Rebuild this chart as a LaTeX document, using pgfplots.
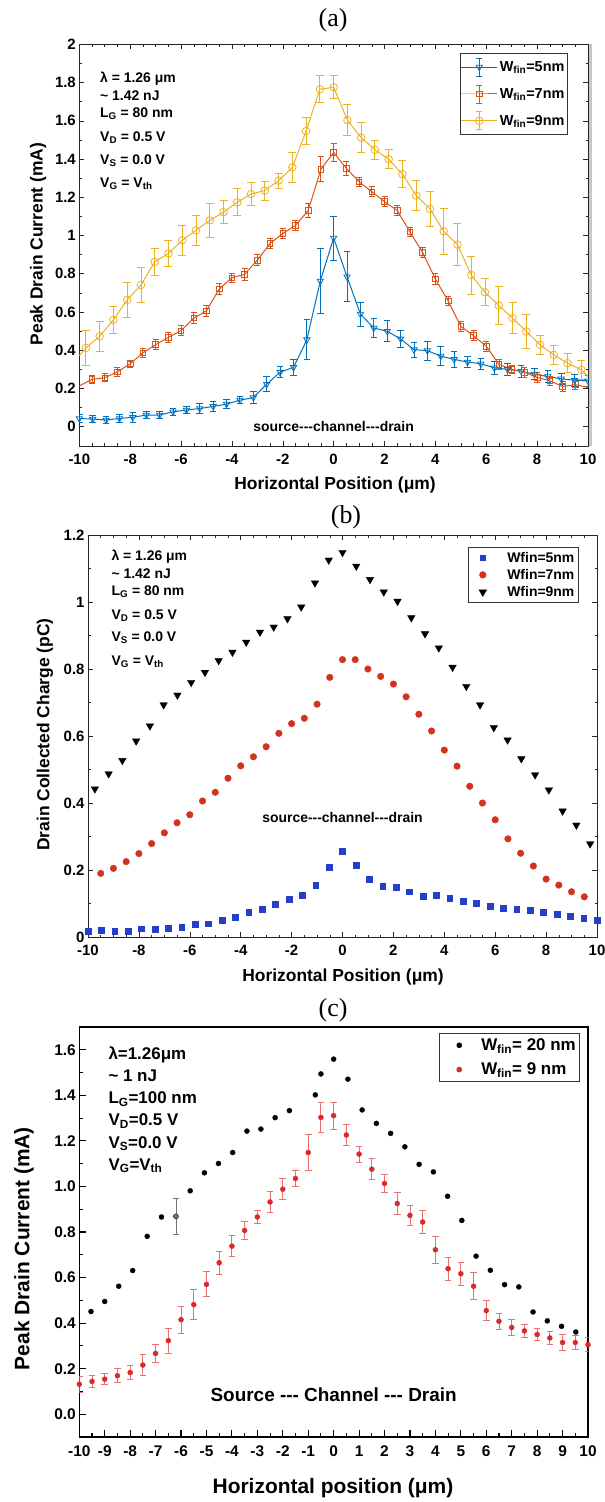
\documentclass[border=0pt]{standalone}
\usepackage{fontspec}
\usepackage{pgfplots}
\pgfplotsset{compat=1.18}
\newfontfamily\af{Liberation Sans}
\newfontfamily\tf{Liberation Serif}

\definecolor{mblue}{HTML}{0072BD}
\definecolor{morange}{HTML}{D95319}
\definecolor{myellow}{HTML}{EDB120}
\definecolor{bblue}{HTML}{2340C8}
\definecolor{bred}{HTML}{D2321E}
\definecolor{cred}{HTML}{DC2828}
\definecolor{cerr}{HTML}{EB7070}

\pgfplotsset{
  mat/.style={
    scale only axis, tick align=inside, tick pos=both,
    major tick length=5bp, minor tick length=2.5bp,
    axis line style={black!85, line width=0.6bp},
    every tick/.append style={black!85, line width=0.5bp},
    tick label style={font=\af\bfseries\fontsize{15}{18}\selectfont},
    xticklabel style={yshift=-5bp},
    /pgf/number format/assume math mode=true,
  },
  ebleg/.style={legend image code/.code={
    \draw[mark repeat=2,mark phase=2,##1] plot coordinates {(0bp,0bp) (18bp,0bp) (36bp,0bp)};
    \draw[##1,mark=none,line width=0.9bp] (18bp,-9bp) -- (18bp,9bp)
      (15bp,-9bp) -- (21bp,-9bp) (15bp,9bp) -- (21bp,9bp);
  }},
  dotleg/.style 2 args={legend image code/.code={
    \path[draw=none,fill=none] (0bp,-5bp) rectangle (#2,5bp);
    \draw[##1] plot coordinates {(#1,0bp)};
  }},
  ebars/.style 2 args={
    /pgfplots/error bars/y dir=both, /pgfplots/error bars/y explicit,
    /pgfplots/error bars/error bar style={#2, line width=0.9bp},
    /pgfplots/error bars/error mark options={rotate=90, #2, mark size=#1, line width=0.9bp}},
}

\begin{document}
\begin{tikzpicture}[font=\af\bfseries]
\useasboundingbox (0bp,0bp) rectangle (605bp,-1502bp);

% ---------------- (a) peak drain current ----------------
\begin{axis}[mat,
  at={(79.3bp,-445.8bp)}, anchor=south west,
  width=508.7bp, height=401.5bp,
  xmin=-10, xmax=10, ymin=-0.1, ymax=2,
  xtick={-10,-8,-6,-4,-2,0,2,4,6,8,10},
  ytick={0,0.2,0.4,0.6,0.8,1,1.2,1.4,1.6,1.8,2},
  minor x tick num=3, minor y tick num=1,
  legend cell align=left,
  legend style={at={(0.7474,0.9775)}, anchor=north west, draw=black!80,
    line width=0.6bp, inner xsep=1bp, inner ysep=4bp, row sep=8bp,
    nodes={inner sep=2bp},
    font=\af\bfseries\fontsize{14.5}{16}\selectfont},
]
\addplot[mblue, line width=1bp, mark=triangle, mark size=3.6bp,
  mark options={rotate=180, line width=0.8bp}, ebleg, ebars={3.3bp}{mblue}]
  coordinates {
(-10.000,0.043) +- (0,0.020) (-9.474,0.040) +- (0,0.020) (-8.947,0.035) +- (0,0.020)
(-8.421,0.043) +- (0,0.020) (-7.895,0.049) +- (0,0.025) (-7.368,0.061) +- (0,0.020)
(-6.842,0.061) +- (0,0.020) (-6.316,0.078) +- (0,0.020) (-5.789,0.087) +- (0,0.020)
(-5.263,0.095) +- (0,0.025) (-4.737,0.106) +- (0,0.025) (-4.211,0.118) +- (0,0.025)
(-3.684,0.139) +- (0,0.020) (-3.158,0.152) +- (0,0.030) (-2.632,0.222) +- (0,0.040)
(-2.105,0.285) +- (0,0.030) (-1.579,0.310) +- (0,0.040) (-1.053,0.455) +- (0,0.105)
(-0.526,0.762) +- (0,0.170) (0.000,0.987) +- (0,0.115) (0.526,0.784) +- (0,0.130)
(1.053,0.589) +- (0,0.063) (1.579,0.516) +- (0,0.050) (2.105,0.499) +- (0,0.055)
(2.632,0.459) +- (0,0.045) (3.158,0.403) +- (0,0.040) (3.684,0.398) +- (0,0.050)
(4.211,0.369) +- (0,0.050) (4.737,0.352) +- (0,0.040) (5.263,0.338) +- (0,0.030)
(5.789,0.329) +- (0,0.030) (6.316,0.308) +- (0,0.035) (6.842,0.300) +- (0,0.030)
(7.368,0.290) +- (0,0.030) (7.895,0.275) +- (0,0.030) (8.421,0.262) +- (0,0.030)
(8.947,0.250) +- (0,0.030) (9.474,0.243) +- (0,0.030) (10.000,0.240) +- (0,0.030)
};
\addlegendentry{W\textsubscript{fin}=5nm}
\addplot[morange, line width=1bp, mark=square, mark size=2.8bp,
  mark options={line width=0.8bp}, ebleg, ebars={3bp}{morange}]
  coordinates {
(-9.5,0.248) +- (0,0.020) (-9.0,0.256) +- (0,0.020) (-8.5,0.287) +- (0,0.025)
(-8.0,0.329) +- (0,0.020) (-7.5,0.386) +- (0,0.025) (-7.0,0.429) +- (0,0.025)
(-6.5,0.467) +- (0,0.025) (-6.0,0.502) +- (0,0.025) (-5.5,0.568) +- (0,0.030)
(-5.0,0.606) +- (0,0.030) (-4.5,0.720) +- (0,0.030) (-4.0,0.779) +- (0,0.025)
(-3.5,0.797) +- (0,0.030) (-3.0,0.871) +- (0,0.030) (-2.5,0.958) +- (0,0.025)
(-2.0,1.010) +- (0,0.025) (-1.5,1.053) +- (0,0.025) (-1.0,1.131) +- (0,0.035)
(-0.5,1.347) +- (0,0.065) (0.0,1.434) +- (0,0.045) (0.5,1.351) +- (0,0.035)
(1.0,1.281) +- (0,0.025) (1.5,1.229) +- (0,0.025) (2.0,1.177) +- (0,0.025)
(2.5,1.131) +- (0,0.025) (3.0,1.018) +- (0,0.025) (3.5,0.911) +- (0,0.025)
(4.0,0.772) +- (0,0.030) (4.5,0.658) +- (0,0.025) (5.0,0.525) +- (0,0.025)
(5.5,0.476) +- (0,0.025) (6.0,0.421) +- (0,0.025) (6.5,0.326) +- (0,0.025)
(7.0,0.300) +- (0,0.020) (7.5,0.285) +- (0,0.025) (8.0,0.258) +- (0,0.025)
(8.5,0.240) +- (0,0.025) (9.0,0.210) +- (0,0.025) (9.5,0.220) +- (0,0.025)
};
\addlegendentry{W\textsubscript{fin}=7nm}
\addplot[myellow, line width=1bp, mark=o, mark size=3.8bp,
  mark options={line width=0.8bp}, ebleg, ebars={4bp}{myellow}]
  coordinates {
(-9.740,0.412) +- (0,0.09) (-9.199,0.473) +- (0,0.08) (-8.658,0.559) +- (0,0.07)
(-8.117,0.663) +- (0,0.09) (-7.576,0.741) +- (0,0.09) (-7.035,0.862) +- (0,0.07)
(-6.494,0.906) +- (0,0.07) (-5.953,0.975) +- (0,0.08) (-5.412,1.027) +- (0,0.08)
(-4.871,1.079) +- (0,0.09) (-4.330,1.122) +- (0,0.06) (-3.789,1.174) +- (0,0.07)
(-3.248,1.217) +- (0,0.06) (-2.707,1.235) +- (0,0.05) (-2.166,1.287) +- (0,0.04)
(-1.625,1.356) +- (0,0.08) (-1.084,1.546) +- (0,0.07) (-0.543,1.765) +- (0,0.07)
(0.000,1.775) +- (0,0.06) (0.541,1.603) +- (0,0.08) (1.082,1.512) +- (0,0.08)
(1.623,1.448) +- (0,0.05) (2.164,1.399) +- (0,0.05) (2.705,1.321) +- (0,0.07)
(3.246,1.209) +- (0,0.08) (3.787,1.139) +- (0,0.09) (4.328,1.022) +- (0,0.12)
(4.869,0.952) +- (0,0.11) (5.410,0.793) +- (0,0.10) (5.951,0.703) +- (0,0.07)
(6.492,0.634) +- (0,0.10) (7.033,0.568) +- (0,0.08) (7.574,0.498) +- (0,0.09)
(8.115,0.428) +- (0,0.05) (8.656,0.376) +- (0,0.05) (9.197,0.332) +- (0,0.05)
(9.740,0.297) +- (0,0.05)
};
\addlegendentry{W\textsubscript{fin}=9nm}
% line segments running on to the frame
\addplot[morange, line width=1bp, forget plot] coordinates {(-10,0.213) (-9.5,0.248)};
\addplot[morange, line width=1bp, forget plot] coordinates {(9.5,0.220) (10,0.205)};
\addplot[myellow, line width=1bp, forget plot] coordinates {(-10,0.372) (-9.74,0.412)};
\addplot[myellow, line width=1bp, forget plot] coordinates {(9.74,0.297) (10,0.262)};
\node[font=\af\bfseries\fontsize{14}{16}\selectfont] at (axis cs:0,0) {source---channel---drain};
\end{axis}
\fill[black!22] (588.5bp,-44bp) rectangle (592bp,-446bp);

\begin{scope}[every node/.style={anchor=base west, font=\af\bfseries\fontsize{14}{16}\selectfont}]
\node at (96.7bp,-82.5bp) {λ = 1.26 μm};
\node at (96.7bp,-100bp) {\textasciitilde\ 1.42 nJ};
\node at (96.7bp,-117.5bp) {L\textsubscript{G} = 80 nm};
\node at (96.7bp,-141bp) {V\textsubscript{D} = 0.5 V};
\node at (96.7bp,-164bp) {V\textsubscript{S} = 0.0 V};
\node at (96.7bp,-187.5bp) {V\textsubscript{G} = V\textsubscript{th}};
\end{scope}
\node[font=\tf\fontsize{26}{28}\selectfont] at (333bp,-20bp) {(a)};
\node[font=\af\bfseries\fontsize{17.5}{20}\selectfont] at (335bp,-485bp) {Horizontal Position (μm)};
\node[rotate=90, font=\af\bfseries\fontsize{17.5}{20}\selectfont] at (38bp,-244bp) {Peak Drain Current (mA)};

% ---------------- (b) collected charge ----------------
\begin{axis}[mat,
  at={(88bp,-937bp)}, anchor=south west,
  width=509bp, height=402bp,
  xmin=-10, xmax=10, ymin=0, ymax=1.2,
  xtick={-10,-8,-6,-4,-2,0,2,4,6,8,10},
  ytick={0,0.2,0.4,0.6,0.8,1,1.2},
  minor x tick num=3, minor y tick num=1,
  legend cell align=left,
  legend style={at={(0.7466,0.971)}, anchor=north west, draw=black!80,
    line width=0.6bp, inner xsep=2bp, inner ysep=3bp, row sep=1.5bp,
    nodes={inner sep=2bp},
    font=\af\bfseries\fontsize{14}{16}\selectfont},
]
\addplot[only marks, mark=square*, mark size=2.9bp, color=bblue, dotleg={12.5bp}{35bp}]
  coordinates {
(-10.000,0.018) (-9.474,0.021) (-8.947,0.018) (-8.421,0.018) (-7.895,0.025)
(-7.368,0.023) (-6.842,0.026) (-6.316,0.030) (-5.789,0.039) (-5.263,0.040)
(-4.737,0.050) (-4.211,0.060) (-3.684,0.073) (-3.158,0.083) (-2.632,0.098)
(-2.105,0.114) (-1.579,0.126) (-1.053,0.155) (-0.526,0.208) (0.000,0.257)
(0.526,0.215) (1.053,0.173) (1.579,0.152) (2.105,0.148) (2.632,0.135)
(3.158,0.123) (3.684,0.124) (4.211,0.117) (4.737,0.107) (5.263,0.100)
(5.789,0.093) (6.316,0.087) (6.842,0.083) (7.368,0.080) (7.895,0.075)
(8.421,0.068) (8.947,0.063) (9.474,0.056) (10.000,0.049)
};
\addlegendentry{Wfin=5nm}
\addplot[only marks, mark=*, mark size=3.3bp, color=bred, dotleg={12.5bp}{35bp}]
  coordinates {
(-9.5,0.190) (-9.0,0.205) (-8.5,0.225) (-8.0,0.249) (-7.5,0.279)
(-7.0,0.311) (-6.5,0.341) (-6.0,0.365) (-5.5,0.406) (-5.0,0.432)
(-4.5,0.474) (-4.0,0.511) (-3.5,0.538) (-3.0,0.568) (-2.5,0.608)
(-2.0,0.637) (-1.5,0.653) (-1.0,0.695) (-0.5,0.775) (0.0,0.828)
(0.5,0.828) (1.0,0.800) (1.5,0.778) (2.0,0.755) (2.5,0.717)
(3.0,0.665) (3.5,0.615) (4.0,0.558) (4.5,0.510) (5.0,0.450)
(5.5,0.400) (6.0,0.350) (6.5,0.293) (7.0,0.250) (7.5,0.212)
(8.0,0.173) (8.5,0.155) (9.0,0.135) (9.5,0.120)
};
\addlegendentry{Wfin=7nm}
\addplot[only marks, mark=triangle*, mark size=4.3bp, mark options={rotate=180}, color=black, dotleg={12.5bp}{35bp}]
  coordinates {
(-9.730,0.442) (-9.189,0.487) (-8.649,0.527) (-8.108,0.585) (-7.568,0.630)
(-7.027,0.693) (-6.486,0.722) (-5.946,0.760) (-5.405,0.790) (-4.865,0.825)
(-4.324,0.850) (-3.784,0.880) (-3.243,0.910) (-2.703,0.925) (-2.162,0.950)
(-1.622,0.985) (-1.081,1.057) (-0.541,1.125) (0.000,1.148) (0.541,1.107)
(1.081,1.067) (1.622,1.030) (2.162,1.002) (2.703,0.953) (3.243,0.905)
(3.784,0.863) (4.324,0.805) (4.865,0.748) (5.405,0.693) (5.946,0.625)
(6.486,0.588) (7.027,0.532) (7.568,0.484) (8.108,0.439) (8.649,0.376)
(9.189,0.334) (9.730,0.278)
};
\addlegendentry{Wfin=9nm}
\node[font=\af\bfseries\fontsize{14}{16}\selectfont] at (axis cs:0,0.357) {source---channel---drain};
\end{axis}

\begin{scope}[every node/.style={anchor=base west, font=\af\bfseries\fontsize{14}{16}\selectfont}]
\node at (108bp,-560.5bp) {λ = 1.26 μm};
\node at (108bp,-578bp) {\textasciitilde\ 1.42 nJ};
\node at (108bp,-595.5bp) {L\textsubscript{G} = 80 nm};
\node at (108bp,-619bp) {V\textsubscript{D} = 0.5 V};
\node at (108bp,-641.5bp) {V\textsubscript{S} = 0.0 V};
\node at (108bp,-665.5bp) {V\textsubscript{G} = V\textsubscript{th}};
\end{scope}
\node[font=\tf\fontsize{26}{28}\selectfont] at (346bp,-517bp) {(b)};
\node[font=\af\bfseries\fontsize{17.5}{20}\selectfont] at (343bp,-977bp) {Horizontal Position (μm)};
\node[rotate=90, font=\af\bfseries\fontsize{17.5}{20}\selectfont] at (45bp,-734.5bp) {Drain Collected Charge (pC)};

% ---------------- (c) peak drain current, 20 nm vs 9 nm ----------------
\begin{axis}[
  scale only axis,
  at={(79.3bp,-1437bp)}, anchor=south west,
  width=508.7bp, height=410bp,
  xmin=-10, xmax=10, ymin=-0.1, ymax=1.7,
  xtick={-10,-9,...,10},
  ytick={0,0.2,0.4,0.6,0.8,1.0,1.2,1.4,1.6},
  minor x tick num=1, minor y tick num=1,
  tick align=inside, tick pos=left,
  major tick length=7bp, minor tick length=4bp,
  axis line style={black, line width=1.3bp},
  every tick/.append style={black, line width=1.1bp},
  tick label style={font=\af\bfseries\fontsize{15.5}{18}\selectfont},
  xticklabel style={yshift=-5bp},
  yticklabel style={/pgf/number format/.cd, fixed, fixed zerofill, precision=1},
  /pgf/number format/assume math mode=true,
  legend cell align=left,
  legend style={at={(0.707,0.9846)}, anchor=north west, draw=black!80,
    line width=0.6bp, inner xsep=2bp, inner ysep=3bp, row sep=7bp,
    nodes={inner sep=2bp},
    font=\af\bfseries\fontsize{17}{20}\selectfont},
]
\addplot[only marks, mark=*, mark size=2.5bp, color=black, dotleg={18bp}{38bp}]
  coordinates {
(-9.54,0.451) (-9.00,0.495) (-8.45,0.562) (-7.90,0.631) (-7.33,0.781)
(-6.77,0.866) (-6.20,0.869) (-5.64,0.981) (-5.08,1.060) (-4.53,1.101)
(-3.97,1.149) (-3.41,1.243) (-2.86,1.252) (-2.30,1.302) (-1.74,1.333)
(-0.72,1.402) (-0.50,1.494) (0.00,1.559) (0.56,1.471) (1.12,1.336)
(1.68,1.277) (2.24,1.233) (2.80,1.174) (3.36,1.097) (3.92,1.064)
(4.48,0.957) (5.04,0.851) (5.60,0.694) (6.16,0.632) (6.72,0.569)
(7.28,0.559) (7.84,0.449) (8.40,0.410) (8.96,0.386) (9.52,0.361)
};
\addlegendentry{W\textsubscript{fin}= 20 nm}
\addplot[only marks, mark=*, mark size=2.5bp, color=cred, dotleg={18bp}{38bp},
  ebars={3.3bp}{cerr}]
  coordinates {
(-10.0,0.132) +- (0,0.035) (-9.5,0.144) +- (0,0.025) (-9.0,0.154) +- (0,0.025)
(-8.5,0.169) +- (0,0.030) (-8.0,0.183) +- (0,0.030) (-7.5,0.216) +- (0,0.045)
(-7.0,0.267) +- (0,0.040) (-6.5,0.323) +- (0,0.055) (-6.0,0.415) +- (0,0.060)
(-5.5,0.481) +- (0,0.065) (-5.0,0.570) +- (0,0.055) (-4.5,0.665) +- (0,0.050)
(-4.0,0.738) +- (0,0.045) (-3.5,0.807) +- (0,0.040) (-3.0,0.866) +- (0,0.030)
(-2.5,0.932) +- (0,0.045) (-2.0,0.988) +- (0,0.045) (-1.5,1.035) +- (0,0.035)
(-1.0,1.149) +- (0,0.080) (-0.5,1.303) +- (0,0.065) (0.0,1.311) +- (0,0.060)
(0.5,1.226) +- (0,0.045) (1.0,1.142) +- (0,0.035) (1.5,1.076) +- (0,0.045)
(2.0,1.013) +- (0,0.040) (2.5,0.925) +- (0,0.050) (3.0,0.873) +- (0,0.045)
(3.5,0.844) +- (0,0.050) (4.0,0.722) +- (0,0.060) (4.5,0.639) +- (0,0.050)
(5.0,0.617) +- (0,0.050) (5.5,0.562) +- (0,0.060) (6.0,0.455) +- (0,0.045)
(6.5,0.408) +- (0,0.035) (7.0,0.381) +- (0,0.035) (7.5,0.366) +- (0,0.030)
(8.0,0.350) +- (0,0.025) (8.5,0.335) +- (0,0.030) (9.0,0.315) +- (0,0.035)
(9.5,0.315) +- (0,0.030) (10.0,0.306) +- (0,0.030)
};
\addlegendentry{W\textsubscript{fin}= 9 nm}
% the one visible spread on the 20 nm series
\addplot[forget plot, only marks, mark=none, color=black!55, ebars={3.3bp}{black!55}]
  coordinates {(-6.20,0.869) +- (0,0.080)};
\node[font=\af\bfseries\fontsize{19}{22}\selectfont] at (axis cs:0,0.085) {Source --- Channel --- Drain};
\end{axis}

\begin{scope}[every node/.style={anchor=base west, font=\af\bfseries\fontsize{17}{20}\selectfont}]
\node at (105bp,-1059.5bp) {λ=1.26μm};
\node at (105bp,-1081bp) {\textasciitilde\ 1 nJ};
\node at (105bp,-1103.5bp) {L\textsubscript{G}=100 nm};
\node at (105bp,-1125.5bp) {V\textsubscript{D}=0.5 V};
\node at (105bp,-1148bp) {V\textsubscript{S}=0.0 V};
\node at (105bp,-1170bp) {V\textsubscript{G}=V\textsubscript{th}};
\end{scope}
\node[font=\tf\fontsize{26}{28}\selectfont] at (333bp,-1010bp) {(c)};
\node[font=\af\bfseries\fontsize{21}{24}\selectfont] at (333bp,-1488bp) {Horizontal position (μm)};
\node[rotate=90, font=\af\bfseries\fontsize{21}{24}\selectfont] at (24bp,-1248.5bp) {Peak Drain Current (mA)};
\end{tikzpicture}
\end{document}
